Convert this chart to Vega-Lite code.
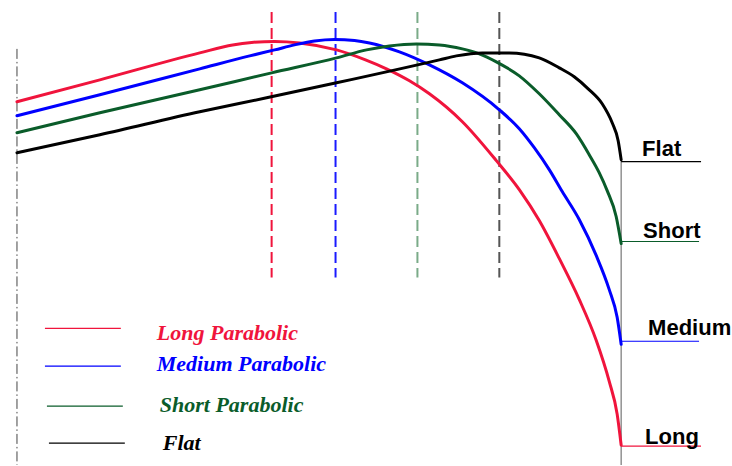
{
  "$schema": "https://vega.github.io/schema/vega-lite/v6.json",
  "width": 732,
  "height": 466,
  "padding": 0,
  "autosize": {"type": "fit", "contains": "padding"},
  "background": "white",
  "view": {"stroke": null},
  "datasets": {
    "curves": [
      {"s": "Long", "o": 1, "x": 17, "y": 102}, {"s": "Long", "o": 2, "x": 100, "y": 80}, {"s": "Long", "o": 3, "x": 200, "y": 53}, {"s": "Long", "o": 4, "x": 233, "y": 45}, {"s": "Long", "o": 5, "x": 252, "y": 42.5}, {"s": "Long", "o": 6, "x": 275, "y": 41.5}, {"s": "Long", "o": 7, "x": 300, "y": 43}, {"s": "Long", "o": 8, "x": 337, "y": 50}, {"s": "Long", "o": 9, "x": 366, "y": 60}, {"s": "Long", "o": 10, "x": 387, "y": 69}, {"s": "Long", "o": 11, "x": 410, "y": 81}, {"s": "Long", "o": 12, "x": 430, "y": 94}, {"s": "Long", "o": 13, "x": 463, "y": 122}, {"s": "Long", "o": 14, "x": 497, "y": 161}, {"s": "Long", "o": 15, "x": 520, "y": 190}, {"s": "Long", "o": 16, "x": 540, "y": 221}, {"s": "Long", "o": 17, "x": 560, "y": 259}, {"s": "Long", "o": 18, "x": 580, "y": 300}, {"s": "Long", "o": 19, "x": 597, "y": 341}, {"s": "Long", "o": 20, "x": 610, "y": 382}, {"s": "Long", "o": 21, "x": 618, "y": 415}, {"s": "Long", "o": 22, "x": 622, "y": 446},
      {"s": "Medium", "o": 1, "x": 17, "y": 116}, {"s": "Medium", "o": 2, "x": 100, "y": 95}, {"s": "Medium", "o": 3, "x": 200, "y": 69}, {"s": "Medium", "o": 4, "x": 250, "y": 56}, {"s": "Medium", "o": 5, "x": 275, "y": 50}, {"s": "Medium", "o": 6, "x": 295, "y": 45}, {"s": "Medium", "o": 7, "x": 315, "y": 41}, {"s": "Medium", "o": 8, "x": 335, "y": 39.5}, {"s": "Medium", "o": 9, "x": 355, "y": 40.5}, {"s": "Medium", "o": 10, "x": 370, "y": 43}, {"s": "Medium", "o": 11, "x": 400, "y": 52}, {"s": "Medium", "o": 12, "x": 430, "y": 65}, {"s": "Medium", "o": 13, "x": 463, "y": 83}, {"s": "Medium", "o": 14, "x": 500, "y": 110}, {"s": "Medium", "o": 15, "x": 520, "y": 129}, {"s": "Medium", "o": 16, "x": 535, "y": 148}, {"s": "Medium", "o": 17, "x": 550, "y": 170}, {"s": "Medium", "o": 18, "x": 563, "y": 192}, {"s": "Medium", "o": 19, "x": 580, "y": 220}, {"s": "Medium", "o": 20, "x": 597, "y": 256}, {"s": "Medium", "o": 21, "x": 610, "y": 290}, {"s": "Medium", "o": 22, "x": 618, "y": 318}, {"s": "Medium", "o": 23, "x": 622, "y": 345},
      {"s": "Short", "o": 1, "x": 17, "y": 133}, {"s": "Short", "o": 2, "x": 100, "y": 113}, {"s": "Short", "o": 3, "x": 200, "y": 90}, {"s": "Short", "o": 4, "x": 272, "y": 73}, {"s": "Short", "o": 5, "x": 337, "y": 58}, {"s": "Short", "o": 6, "x": 367, "y": 50}, {"s": "Short", "o": 7, "x": 390, "y": 46}, {"s": "Short", "o": 8, "x": 417, "y": 44}, {"s": "Short", "o": 9, "x": 440, "y": 45}, {"s": "Short", "o": 10, "x": 463, "y": 49}, {"s": "Short", "o": 11, "x": 480, "y": 54}, {"s": "Short", "o": 12, "x": 497, "y": 62}, {"s": "Short", "o": 13, "x": 520, "y": 76}, {"s": "Short", "o": 14, "x": 540, "y": 94}, {"s": "Short", "o": 15, "x": 560, "y": 115}, {"s": "Short", "o": 16, "x": 577, "y": 134}, {"s": "Short", "o": 17, "x": 590, "y": 155}, {"s": "Short", "o": 18, "x": 600, "y": 173}, {"s": "Short", "o": 19, "x": 608, "y": 191}, {"s": "Short", "o": 20, "x": 617, "y": 217}, {"s": "Short", "o": 21, "x": 622, "y": 244},
      {"s": "Flat", "o": 1, "x": 17, "y": 153}, {"s": "Flat", "o": 2, "x": 100, "y": 135}, {"s": "Flat", "o": 3, "x": 200, "y": 112}, {"s": "Flat", "o": 4, "x": 267, "y": 98}, {"s": "Flat", "o": 5, "x": 337, "y": 83}, {"s": "Flat", "o": 6, "x": 440, "y": 60}, {"s": "Flat", "o": 7, "x": 457, "y": 56}, {"s": "Flat", "o": 8, "x": 483, "y": 53}, {"s": "Flat", "o": 9, "x": 510, "y": 53}, {"s": "Flat", "o": 10, "x": 540, "y": 58}, {"s": "Flat", "o": 11, "x": 560, "y": 68}, {"s": "Flat", "o": 12, "x": 575, "y": 77}, {"s": "Flat", "o": 13, "x": 589, "y": 89}, {"s": "Flat", "o": 14, "x": 603, "y": 104}, {"s": "Flat", "o": 15, "x": 613, "y": 123}, {"s": "Flat", "o": 16, "x": 619, "y": 141}, {"s": "Flat", "o": 17, "x": 622, "y": 160}
    ],
    "dashes": [
      {"s": "Long", "x": 272, "y": 12, "y2": 278},
      {"s": "Medium", "x": 336, "y": 12, "y2": 278},
      {"s": "Short", "x": 418, "y": 12, "y2": 278},
      {"s": "Flat", "x": 500, "y": 12, "y2": 278}
    ],
    "ticks": [
      {"s": "Flat", "x": 622, "x2": 702, "y": 162},
      {"s": "Short", "x": 622, "x2": 700, "y": 242},
      {"s": "Medium", "x": 622, "x2": 700, "y": 342},
      {"s": "Long", "x": 622, "x2": 702, "y": 447},
      {"s": "Long", "x": 45, "x2": 121, "y": 329},
      {"s": "Medium", "x": 45, "x2": 121, "y": 367},
      {"s": "Short", "x": 47, "x2": 123, "y": 407},
      {"s": "Flat", "x": 49, "x2": 125, "y": 444}
    ],
    "rightLabels": [
      {"t": "Flat", "x": 643, "y": 156},
      {"t": "Short", "x": 644, "y": 239},
      {"t": "Medium", "x": 649, "y": 336},
      {"t": "Long", "x": 646, "y": 445}
    ],
    "legendLabels": [
      {"s": "Long", "t": "Long Parabolic", "x": 157, "y": 341},
      {"s": "Medium", "t": "Medium Parabolic", "x": 157, "y": 372},
      {"s": "Short", "t": "Short Parabolic", "x": 160, "y": 413},
      {"s": "Flat", "t": "Flat", "x": 163, "y": 451}
    ],
    "axisLines": [
      {"k": "dashdot", "x": 17, "y": 49, "y2": 466},
      {"k": "solid", "x": 622, "y": 160, "y2": 466}
    ]
  },
  "layer": [
    {
      "data": {"name": "dashes"},
      "mark": {"type": "rule", "strokeWidth": 2, "strokeDash": [11, 5]},
      "encoding": {
        "x": {"field": "x", "type": "quantitative", "scale": {"domain": [0, 732], "nice": false, "zero": false}, "axis": null},
        "y": {"field": "y", "type": "quantitative", "scale": {"domain": [0, 466], "reverse": true, "nice": false, "zero": false}, "axis": null},
        "y2": {"field": "y2"},
        "stroke": {"field": "s", "type": "nominal", "legend": null, "scale": {"domain": ["Long", "Medium", "Short", "Flat"], "range": ["#f0143c", "#1a1aff", "#7aab88", "#555555"]}}
      }
    },
    {
      "data": {"name": "axisLines"},
      "mark": {"type": "rule", "strokeWidth": 1, "color": "#444444"},
      "encoding": {
        "x": {"field": "x", "type": "quantitative"},
        "y": {"field": "y", "type": "quantitative"},
        "y2": {"field": "y2"},
        "strokeDash": {"field": "k", "type": "nominal", "legend": null, "scale": {"domain": ["dashdot", "solid"], "range": [[10, 3, 1.5, 3], [1, 0]]}}
      }
    },
    {
      "data": {"name": "ticks"},
      "mark": {"type": "rule", "strokeWidth": 1.2},
      "encoding": {
        "x": {"field": "x", "type": "quantitative"},
        "x2": {"field": "x2"},
        "y": {"field": "y", "type": "quantitative"},
        "color": {"field": "s", "type": "nominal", "legend": null, "scale": {"domain": ["Long", "Medium", "Short", "Flat"], "range": ["#f0143c", "#0000ff", "#0a5c2a", "#000000"]}}
      }
    },
    {
      "data": {"name": "curves"},
      "mark": {"type": "line", "strokeWidth": 3, "interpolate": "monotone", "strokeCap": "round"},
      "encoding": {
        "x": {"field": "x", "type": "quantitative"},
        "y": {"field": "y", "type": "quantitative"},
        "order": {"field": "o", "type": "quantitative"},
        "detail": {"field": "s"},
        "color": {"field": "s", "type": "nominal", "legend": null}
      }
    },
    {
      "data": {"name": "rightLabels"},
      "mark": {"type": "text", "font": "Liberation Sans", "fontWeight": "bold", "fontSize": 22, "align": "left", "baseline": "alphabetic", "color": "#000000"},
      "encoding": {
        "x": {"field": "x", "type": "quantitative"},
        "y": {"field": "y", "type": "quantitative"},
        "text": {"field": "t"}
      }
    },
    {
      "data": {"name": "legendLabels"},
      "mark": {"type": "text", "font": "Liberation Serif", "fontWeight": "bold", "fontStyle": "italic", "fontSize": 22, "align": "left", "baseline": "alphabetic"},
      "encoding": {
        "x": {"field": "x", "type": "quantitative"},
        "y": {"field": "y", "type": "quantitative"},
        "text": {"field": "t"},
        "color": {"field": "s", "type": "nominal", "legend": null}
      }
    }
  ]
}
